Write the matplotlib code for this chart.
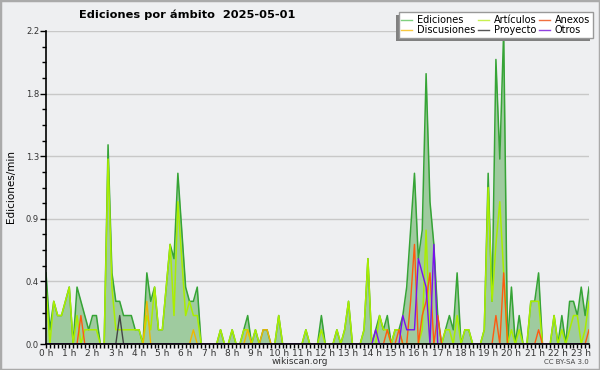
import numpy as np
import matplotlib
matplotlib.use("Agg")
import matplotlib.pyplot as plt
from matplotlib.lines import Line2D
from matplotlib.patches import Rectangle
from matplotlib.ticker import FixedLocator, MultipleLocator, FuncFormatter

# edits per minute, one value every 10 minutes (0:00 .. 23:20)
ediciones = [
    0.5, 0.1, 0.3, 0.2, 0.2, 0.3, 0.4, 0.0, 0.4, 0.3, 0.2, 0.1,
    0.2, 0.2, 0.0, 0.0, 1.4, 0.5, 0.3, 0.3, 0.2, 0.2, 0.2, 0.1,
    0.1, 0.0, 0.5, 0.3, 0.4, 0.1, 0.1, 0.4, 0.7, 0.6, 1.2, 0.8,
    0.4, 0.3, 0.3, 0.4, 0.0, 0.0, 0.0, 0.0, 0.0, 0.1, 0.0, 0.0,
    0.1, 0.0, 0.0, 0.1, 0.2, 0.0, 0.1, 0.0, 0.1, 0.1, 0.0, 0.0,
    0.2, 0.0, 0.0, 0.0, 0.0, 0.0, 0.0, 0.1, 0.0, 0.0, 0.0, 0.2,
    0.0, 0.0, 0.0, 0.1, 0.0, 0.1, 0.3, 0.0, 0.0, 0.0, 0.1, 0.6,
    0.0, 0.1, 0.2, 0.1, 0.2, 0.0, 0.1, 0.1, 0.2, 0.4, 0.8, 1.2,
    0.6, 0.8, 1.9, 1.0, 0.7, 0.2, 0.0, 0.1, 0.2, 0.1, 0.5, 0.0,
    0.1, 0.1, 0.0, 0.0, 0.0, 0.1, 1.2, 0.3, 2.0, 1.3, 2.2, 0.0,
    0.4, 0.0, 0.2, 0.0, 0.0, 0.3, 0.3, 0.5, 0.0, 0.0, 0.0, 0.2,
    0.0, 0.2, 0.0, 0.3, 0.3, 0.2, 0.4, 0.2, 0.4,
]
articulos = [
    0.4, 0.0, 0.3, 0.2, 0.2, 0.3, 0.4, 0.0, 0.2, 0.0, 0.1, 0.1,
    0.1, 0.1, 0.0, 0.0, 1.3, 0.4, 0.1, 0.1, 0.1, 0.1, 0.1, 0.1,
    0.1, 0.0, 0.2, 0.1, 0.4, 0.1, 0.1, 0.4, 0.7, 0.2, 1.0, 0.6,
    0.2, 0.3, 0.2, 0.2, 0.0, 0.0, 0.0, 0.0, 0.0, 0.1, 0.0, 0.0,
    0.1, 0.0, 0.0, 0.1, 0.1, 0.0, 0.1, 0.0, 0.0, 0.0, 0.0, 0.0,
    0.2, 0.0, 0.0, 0.0, 0.0, 0.0, 0.0, 0.1, 0.0, 0.0, 0.0, 0.1,
    0.0, 0.0, 0.0, 0.1, 0.0, 0.1, 0.3, 0.0, 0.0, 0.0, 0.1, 0.6,
    0.0, 0.0, 0.2, 0.1, 0.1, 0.0, 0.1, 0.1, 0.0, 0.0, 0.0, 0.0,
    0.0, 0.1, 0.8, 0.0, 0.0, 0.0, 0.0, 0.1, 0.1, 0.0, 0.2, 0.0,
    0.1, 0.1, 0.0, 0.0, 0.0, 0.1, 1.1, 0.3, 0.7, 1.0, 0.5, 0.0,
    0.1, 0.0, 0.1, 0.0, 0.0, 0.3, 0.3, 0.3, 0.0, 0.0, 0.0, 0.2,
    0.0, 0.1, 0.0, 0.1, 0.2, 0.2, 0.0, 0.1, 0.3,
]
anexos = [
    0.0, 0.0, 0.0, 0.0, 0.0, 0.0, 0.0, 0.0, 0.0, 0.2, 0.0, 0.0,
    0.0, 0.0, 0.0, 0.0, 0.0, 0.0, 0.0, 0.0, 0.0, 0.0, 0.0, 0.0,
    0.0, 0.0, 0.0, 0.0, 0.0, 0.0, 0.0, 0.0, 0.0, 0.0, 0.0, 0.0,
    0.0, 0.0, 0.0, 0.0, 0.0, 0.0, 0.0, 0.0, 0.0, 0.0, 0.0, 0.0,
    0.0, 0.0, 0.0, 0.0, 0.0, 0.0, 0.0, 0.0, 0.0, 0.0, 0.0, 0.0,
    0.0, 0.0, 0.0, 0.0, 0.0, 0.0, 0.0, 0.0, 0.0, 0.0, 0.0, 0.0,
    0.0, 0.0, 0.0, 0.0, 0.0, 0.0, 0.0, 0.0, 0.0, 0.0, 0.0, 0.0,
    0.0, 0.0, 0.0, 0.0, 0.1, 0.0, 0.0, 0.1, 0.0, 0.0, 0.3, 0.7,
    0.0, 0.2, 0.3, 0.5, 0.0, 0.2, 0.0, 0.0, 0.0, 0.0, 0.0, 0.0,
    0.0, 0.0, 0.0, 0.0, 0.0, 0.0, 0.0, 0.0, 0.2, 0.0, 0.5, 0.0,
    0.0, 0.0, 0.0, 0.0, 0.0, 0.0, 0.0, 0.1, 0.0, 0.0, 0.0, 0.0,
    0.0, 0.0, 0.0, 0.0, 0.0, 0.0, 0.0, 0.0, 0.1,
]
discusiones = [
    0.0, 0.0, 0.0, 0.0, 0.0, 0.0, 0.0, 0.0, 0.0, 0.0, 0.0, 0.0,
    0.0, 0.0, 0.0, 0.0, 0.0, 0.0, 0.0, 0.0, 0.0, 0.0, 0.0, 0.0,
    0.0, 0.0, 0.3, 0.0, 0.0, 0.0, 0.0, 0.0, 0.0, 0.0, 0.0, 0.0,
    0.0, 0.0, 0.1, 0.0, 0.0, 0.0, 0.0, 0.0, 0.0, 0.0, 0.0, 0.0,
    0.0, 0.0, 0.0, 0.0, 0.1, 0.0, 0.0, 0.0, 0.1, 0.1, 0.0, 0.0,
    0.0, 0.0, 0.0, 0.0, 0.0, 0.0, 0.0, 0.0, 0.0, 0.0, 0.0, 0.0,
    0.0, 0.0, 0.0, 0.0, 0.0, 0.0, 0.0, 0.0, 0.0, 0.0, 0.0, 0.0,
    0.0, 0.0, 0.0, 0.0, 0.0, 0.0, 0.0, 0.0, 0.0, 0.0, 0.0, 0.0,
    0.0, 0.0, 0.0, 0.0, 0.0, 0.0, 0.0, 0.0, 0.0, 0.0, 0.0, 0.0,
    0.0, 0.0, 0.0, 0.0, 0.0, 0.0, 0.0, 0.0, 0.0, 0.0, 0.0, 0.0,
    0.0, 0.0, 0.0, 0.0, 0.0, 0.0, 0.0, 0.0, 0.0, 0.0, 0.0, 0.0,
    0.0, 0.0, 0.0, 0.0, 0.0, 0.0, 0.0, 0.0, 0.0,
]
proyecto = [
    0.0, 0.0, 0.0, 0.0, 0.0, 0.0, 0.0, 0.0, 0.0, 0.0, 0.0, 0.0,
    0.0, 0.0, 0.0, 0.0, 0.0, 0.0, 0.0, 0.2, 0.0, 0.0, 0.0, 0.0,
] + [0.0] * 117
otros = [0.0] * 84 + [
    0.0, 0.1, 0.0, 0.0, 0.0, 0.0, 0.0, 0.0, 0.2, 0.1, 0.1, 0.1,
    0.6, 0.5, 0.4, 0.0, 0.7, 0.0,
] + [0.0] * 39

hour_labels = ["%d h" % h for h in range(24)]

bg = "#eeeff1"
fig = plt.figure(figsize=(6, 3.7), dpi=100, facecolor=bg)
ax = fig.add_axes([46 / 600, 1 - 344 / 370, 543 / 600, 313 / 370])
ax.set_facecolor(bg)

hours = np.arange(len(ediciones)) / 6.0

ax.fill_between(hours, ediciones, color="#9fcb9f", lw=0, zorder=2)
ax.plot(hours, ediciones, color="#36a436", lw=1.1, zorder=3)
ax.plot(hours, articulos, color="#aaee00", lw=1.1, zorder=4)
ax.plot(hours, discusiones, color="#f0b800", lw=1.0, zorder=5)
ax.plot(hours, anexos, color="#ff5a10", lw=1.0, zorder=5)
ax.plot(hours, proyecto, color="#444444", lw=1.0, zorder=5)
ax.plot(hours, otros, color="#7a10f0", lw=1.0, zorder=6)

ax.set_xlim(0, hours[-1])
ax.set_ylim(0, 2.2)

ymaj = [0.0, 0.44, 0.88, 1.32, 1.76, 2.2]
ax.yaxis.set_major_locator(FixedLocator(ymaj))
ax.yaxis.set_minor_locator(MultipleLocator(0.11))
ax.yaxis.set_major_formatter(FuncFormatter(lambda v, p: "%.1f" % v))
ax.set_xticks(range(24))
ax.set_xticklabels(hour_labels)
ax.xaxis.set_minor_locator(MultipleLocator(1 / 6))

ax.tick_params(axis="both", which="major", direction="out", length=4,
               width=1, labelcolor="#333333", pad=1)
ax.tick_params(axis="both", which="minor", direction="out", length=3, width=1)
ax.tick_params(axis="x", which="major", labelsize=6.5, pad=0.5, length=3)
ax.tick_params(axis="y", which="major", labelsize=6)
ax.grid(axis="y", which="major", color="#c8c8c8", lw=1, zorder=1)
ax.set_axisbelow(True)
for s in ["top", "right"]:
    ax.spines[s].set_visible(False)
for s in ["left", "bottom"]:
    ax.spines[s].set_linewidth(1.2)
    ax.spines[s].set_zorder(10)

fig.text(187 / 600, 1 - 15 / 370, "Ediciones por ámbito  2025-05-01",
         ha="center", va="center", fontsize=8.2, fontweight="bold")
fig.text(11 / 600, 1 - 187 / 370, "Ediciones/min", rotation=90,
         ha="center", va="center", fontsize=7.5)
fig.text(300 / 600, 1 - 362 / 370, "wikiscan.org", ha="center",
         va="center", fontsize=6.5, color="#333333")
fig.text(589 / 600, 1 - 362 / 370, "CC BY-SA 3.0", ha="right",
         va="center", fontsize=5, color="#444444")

# legend: row-wise order as in the original
handles = [
    Line2D([], [], color="#7fd07f", lw=1),
    Line2D([], [], color="#f8c840", lw=1),
    Line2D([], [], color="#c8f050", lw=1),
    Line2D([], [], color="#555555", lw=1),
    Line2D([], [], color="#f07040", lw=1),
    Line2D([], [], color="#9040e0", lw=1),
]
labels = ["Ediciones", "Discusiones", "Artículos", "Proyecto", "Anexos", "Otros"]
leg = fig.legend(handles, labels, ncol=3, loc="upper right",
                 bbox_to_anchor=(593 / 600, 1 - 12 / 370),
                 fontsize=7, frameon=True, fancybox=False,
                 edgecolor="#999999", facecolor="white", framealpha=1,
                 handlelength=1.1, handletextpad=0.5, columnspacing=0.3,
                 labelspacing=0.05, borderpad=0.3, borderaxespad=0)
leg.get_frame().set_linewidth(1)
leg.set_zorder(20)

fig.canvas.draw()
bb = leg.get_window_extent()
inv = fig.transFigure.inverted()
(x0, y0), (x1, y1) = inv.transform([[bb.x0 - 3, bb.y0 - 3], [bb.x1 - 3, bb.y1 - 3]])
fig.patches.append(Rectangle((x0, y0), x1 - x0, y1 - y0, transform=fig.transFigure,
                             facecolor="#808080", edgecolor="none", zorder=19))

fig.patches.append(Rectangle((0, 0), 1, 1, transform=fig.transFigure, fill=False,
                             edgecolor="#aaaaaa", lw=2.5, zorder=30))

fig.savefig("out.png", dpi=100, facecolor=bg)
